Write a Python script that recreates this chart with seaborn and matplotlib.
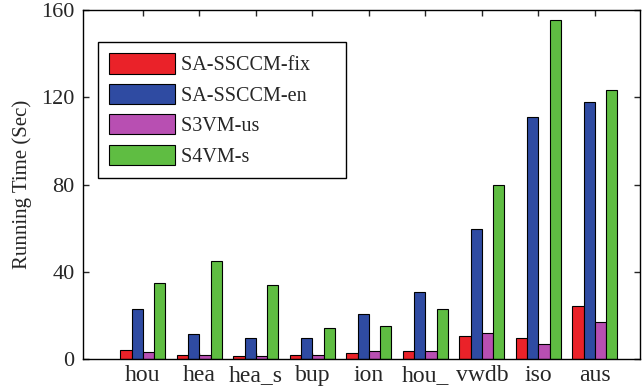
import pandas as pd
import matplotlib.pyplot as plt
import seaborn as sns

# data
datasets = ['hou', 'hea', 'hea_s', 'bup', 'ion', 'hou_', 'vwdb', 'iso', 'aus']
methods = ['SA-SSCCM-fix', 'SA-SSCCM-en', 'S3VM-us', 'S4VM-s']

sa_fix = [4, 2, 1.5, 2, 2.7, 3.5, 10.4, 9.6, 24.4]
sa_en = [23, 11.6, 9.8, 9.8, 20.5, 30.5, 59.8, 111, 118]
s3vm_us = [3.3, 2, 1.5, 2, 3.5, 3.5, 11.7, 7, 16.8]
s4vm_s = [35, 45, 33.8, 14, 15.3, 23, 80, 155.3, 123.2]

colors = ['#ea2229', '#2f4ba2', '#b84fb2', '#5fbd42']

sns.set_style('ticks')
plt.rcParams['font.family'] = ['Liberation Serif', 'DejaVu Serif']

rows = []
for m, vals in zip(methods, [sa_fix, sa_en, s3vm_us, s4vm_s]):
    for d, v in zip(datasets, vals):
        rows.append({'dataset': d, 'method': m, 'time': v})
df = pd.DataFrame(rows)

fig = plt.figure(figsize=(6.42, 3.91), dpi=100)
ax = fig.add_axes([83 / 642, 32 / 391, 557 / 642, 349 / 391])

sns.barplot(
    data=df, x='dataset', y='time', hue='method',
    order=datasets, hue_order=methods, palette=colors, saturation=1,
    edgecolor='black', linewidth=0.8, width=0.8,
    errorbar=None, ax=ax
)

ax.set_xlim(-1.06, 8.8)
ax.set_ylim(0, 160)
ax.set_yticks([0, 40, 80, 120, 160])
ax.set_xlabel('')
ax.set_ylabel('Running Time (Sec)', fontsize=15, labelpad=7)

ax.tick_params(axis='both', direction='in', length=4, width=1,
               top=True, right=True)
ax.tick_params(axis='y', labelsize=16, pad=6)
ax.tick_params(axis='x', labelsize=17, pad=4)
for s in ax.spines.values():
    s.set_linewidth(1)
    s.set_color('black')

# MATLAB-style legend leaves room on the right of the labels
handles, labels = ax.get_legend_handles_labels()
labels = [lab + '     ' for lab in labels]
leg = ax.legend(
    handles, labels, loc='upper left', bbox_to_anchor=(0.027, 0.908),
    fontsize=14.5, handlelength=3.25, handleheight=1.18, labelspacing=0.42,
    handletextpad=0.3, borderaxespad=0, borderpad=0.55,
    fancybox=False, framealpha=1, edgecolor='black'
)
leg.get_frame().set_linewidth(1)

plt.savefig('out.png', dpi=100)
